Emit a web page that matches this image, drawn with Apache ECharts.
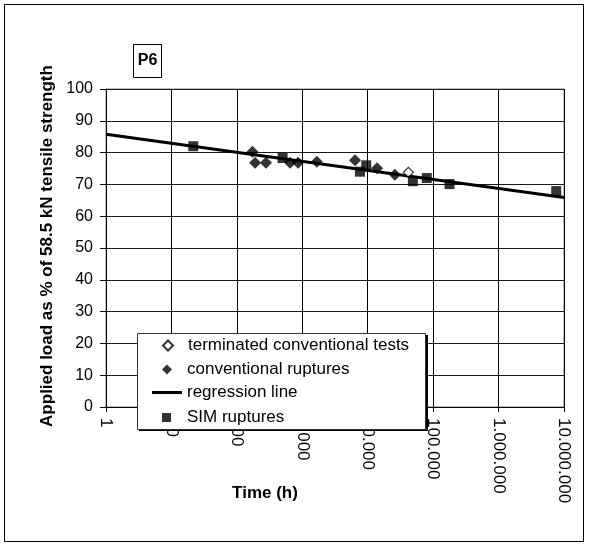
<!DOCTYPE html>
<html>
<head>
<meta charset="utf-8">
<script src="https://cdn.jsdelivr.net/npm/echarts@6/dist/echarts.min.js"></script>
<style>html,body{margin:0;padding:0;background:#fff}#c{width:590px;height:548px}</style>
</head>
<body>
<div id="c"></div>
<script>
const xTicks = [1, 10, 100, 1000, 10000, 100000, 1000000, 10000000];
const yTicks = [0, 10, 20, 30, 40, 50, 60, 70, 80, 90, 100];
const terminatedTests = [[41800, 73.8]];
const conventionalRuptures = [[173, 80.3], [190, 76.8], [279, 76.8], [650, 76.8], [862, 76.8], [1667, 77.1], [6400, 77.6], [13900, 75.1], [26000, 73.0]];
const regressionLine = [[1, 85.8], [10000000, 65.9]];
const simRuptures = [[21.6, 82.0], [500, 78.3], [7600, 74.0], [9500, 76.0], [49000, 71.0], [80000, 72.0], [178000, 70.1], [7600000, 67.9]];
const seriesNames = ['terminated conventional tests', 'conventional ruptures', 'regression line', 'SIM ruptures'];

const FONT = '"Liberation Sans", Arial, sans-serif';
function fmt(v) {
  const r = Math.round(v);
  return String(r).replace(/\B(?=(\d{3})+(?!\d))/g, '.');
}
const chart = echarts.init(document.getElementById('c'), null, {renderer: 'canvas'});
function legendFor(name, icon, top, left, w, h, padLeft) {
  const item = icon ? {name: name, icon: icon} : name;
  return {
    data: [item], left: left, top: top, orient: 'vertical', padding: 0,
    itemWidth: w, itemHeight: h, selectedMode: false, z: 10,
    textStyle: {fontFamily: FONT, fontSize: 17, color: '#000', padding: [0, 0, 0, padLeft]}
  };
}
chart.setOption({
  animation: false,
  backgroundColor: '#fff',
  grid: {left: 106, right: 26, top: 89, bottom: 141, show: true, borderColor: '#808080', borderWidth: 1, containLabel: false},
  xAxis: {
    type: 'log', logBase: 10, min: xTicks[0], max: xTicks[xTicks.length - 1],
    axisLine: {show: true, onZero: false, lineStyle: {color: '#000', width: 1}},
    axisTick: {show: true, length: 5, lineStyle: {color: '#000'}},
    minorTick: {show: false},
    splitLine: {show: true, lineStyle: {color: '#000', width: 1}},
    axisLabel: {rotate: -90, margin: 11, fontFamily: FONT, fontSize: 17, color: '#000', formatter: fmt, showMinLabel: true, showMaxLabel: true}
  },
  yAxis: {
    type: 'value', min: yTicks[0], max: yTicks[yTicks.length - 1], interval: 10,
    axisLine: {show: true, lineStyle: {color: '#000', width: 1}},
    axisTick: {show: true, length: 6, lineStyle: {color: '#000'}},
    splitLine: {show: true, lineStyle: {color: '#1a1a1a', width: 1}},
    axisLabel: {margin: 13, fontFamily: FONT, fontSize: 16, color: '#000'}
  },
  legend: [
    legendFor(seriesNames[0], null, 337, 162, 10, 10, 10),
    legendFor(seriesNames[1], null, 361, 162, 10, 10, 10),
    legendFor(seriesNames[2], 'rect', 384, 152, 30, 3, 0),
    legendFor(seriesNames[3], null, 409, 162, 9, 9, 11)
  ],
  graphic: [
    {type: 'rect', z: 5, shape: {x: 4.5, y: 4.5, width: 579, height: 537}, style: {fill: null, stroke: '#000', lineWidth: 1}},
    {type: 'rect', z: 5, shape: {x: 133.5, y: 44.5, width: 28, height: 33}, style: {fill: '#fff', stroke: '#000', lineWidth: 1}},
    {type: 'text', z: 6, x: 147.5, y: 61, style: {text: 'P6', font: 'bold 16px ' + FONT, fill: '#000', align: 'center', verticalAlign: 'middle'}},
    {type: 'rect', z: 5, shape: {x: 139, y: 335, width: 289, height: 96}, style: {fill: '#000', stroke: null}},
    {type: 'rect', z: 5, shape: {x: 137.5, y: 333.5, width: 288, height: 96}, style: {fill: '#fff', stroke: '#333', lineWidth: 1}},
    {type: 'text', z: 6, x: 47, y: 246, rotation: Math.PI / 2, style: {text: 'Applied load as % of 58.5 kN tensile strength', font: 'bold 17px ' + FONT, fill: '#000', align: 'center', verticalAlign: 'middle'}},
    {type: 'text', z: 6, x: 265, y: 493, style: {text: 'Time (h)', font: 'bold 17px ' + FONT, fill: '#000', align: 'center', verticalAlign: 'middle'}}
  ],
  series: [
    {name: seriesNames[0], type: 'scatter', data: terminatedTests, symbol: 'diamond', symbolSize: 10, z: 4,
     itemStyle: {color: '#fff', borderColor: '#000', borderWidth: 1.2}},
    {name: seriesNames[1], type: 'scatter', data: conventionalRuptures, symbol: 'diamond', symbolSize: 12, z: 4,
     itemStyle: {color: '#000'}},
    {name: seriesNames[2], type: 'line', data: regressionLine, showSymbol: false, symbol: 'none', z: 3,
     lineStyle: {color: '#000', width: 3}, itemStyle: {color: '#000'}},
    {name: seriesNames[3], type: 'scatter', data: simRuptures, symbol: 'rect', symbolSize: 10, z: 5,
     itemStyle: {color: '#000'}}
  ]
});
</script>
</body>
</html>
